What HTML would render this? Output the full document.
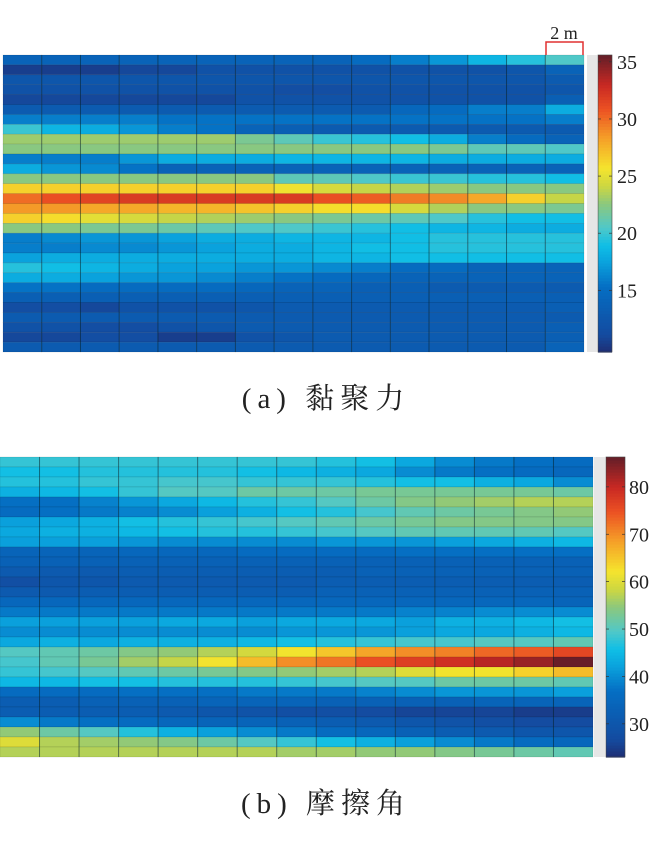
<!DOCTYPE html>
<html><head><meta charset="utf-8">
<style>
html,body{margin:0;padding:0;background:#fff;}
body{width:653px;height:842px;overflow:hidden;position:relative;}
svg{position:absolute;left:0;top:0;}
.cap{font-family:"Liberation Serif","Noto Serif CJK SC",serif;font-size:29px;fill:#222;letter-spacing:6px;}
.tk{font-family:"Liberation Serif",serif;font-size:20px;fill:#222;}
</style></head>
<body>
<svg id="fig" width="653" height="842">
  <g id="chartA"></g>
  <g id="chartB"></g>
  <g>
    <path d="M546,55 V42 H583 V55" fill="none" stroke="#e03030" stroke-width="1.5"/>
    <text x="564" y="39" text-anchor="middle" class="tk" style="font-size:18px">2 m</text>
  </g>
  <text x="326" y="408" text-anchor="middle" class="cap">(a) 黏聚力</text>
  <text x="326" y="813" text-anchor="middle" class="cap">(b) 摩擦角</text>
</svg>
<script>
const cohesionRows = [
[14,14,14,14,14,14,14,14,14,15,16,17,18.5,19.5,20.5],
[10.5,10.5,10.5,11,11,12,12,12,12,12,12,12,12,12.5,14],
[12.5,12.5,12.5,12.5,12.5,12.5,12.5,12.5,12.5,12.5,12.5,12.5,12.5,12.5,13],
[12,12,12,12,12,12,12,11.5,11.5,12,12,12,12,12,12.5],
[11,11,11,11,11,11,12,12,12,12,12,12,12,12,13.5],
[13,13,13,13,13,13,13,13,13,13,14.5,15,16,16,18],
[16,16,16,16,15.5,15.5,15.5,15.5,15.5,15.5,15.5,15.5,15.5,15.5,16],
[20,18.5,18,17,16,15.5,14,13.5,13,13,13,13,13,13,13],
[23,23,23,23,23,23,22,21,20,19.5,19,18,16,15,14],
[22.5,22.5,22.5,22.5,22.5,22.5,22.5,22.5,22.5,22.5,22.5,22,21,21,20.5],
[16,16,16,17,18,18,18,18.5,18.5,18.5,18.5,18,18,18,18],
[18,17,16.5,15.5,14,14,14,14,14,14,14,14,14,14,14],
[22.5,22.5,22.5,22.5,22.5,22.5,22.5,21,21,20.5,20,20,19.5,19.5,19],
[26.5,26.5,26.5,26.5,26.5,26.5,26.5,25.5,24.5,24,23.5,23,22.5,22.5,22.5],
[30,31,31.5,32,32,32,32,32,31,30.5,29.5,29,28,26.5,24],
[28.5,28.5,28,28,27.5,27.5,27,26.5,26,26,24.5,23.5,22.5,22.5,22],
[26.5,26,25,24.5,24,23.5,23,22.5,22,21.5,21,20.5,19.5,19,19],
[22.5,22.5,22,22,21.5,21,20.5,20.5,20,19.5,19,18.5,18.5,18,18],
[16,16.5,17,17,17.5,18,18,18.5,18.5,18.5,19,19.5,19.5,19.5,19.5],
[16,16,16.5,16.5,17,17.5,18,18,18.5,19,19,19.5,19.5,19.5,19.5],
[17.5,18,18,18,18,18,18,18,18.5,18.5,19,19,19,19,19],
[19.5,19,18.5,18,17.5,17.5,17,17,16.5,16,15,15,14,14,14],
[18,18,17.5,17,17,16.5,16,15.5,15,14.5,14,14,14,14,14],
[15.5,15.5,15,15,15,15,14.5,14,14,13.5,13.5,13,13,13,13],
[13.5,13.5,13.5,13.5,13.5,13.5,13.5,13.5,13.5,13.5,13.5,13.5,13.5,13.5,13.5],
[11.5,11.5,11,12,12,12,12.5,13,13,13,13,13,13,13,13.5],
[13,13,13,13,13,13,13,13,13,13,13,13,13,13,13],
[12,12,11.5,11.5,12,12.5,13,13,13,13,13,13,13,13,13.5],
[11,11,11.5,11.5,10.5,10.5,12,12.5,13,13,13,13,13,13,13.5],
[13,13,13,13,13,13,13,13,13,13,13,13,13,13,14]
];
const frictionRows = [
[48,48,48,48,48,48,48,48,47,46,43,40,38,37,36],
[46,46,47,47,47,47,46,45,44,43,40,38,37,36,35],
[47,47,48,48,49,49,48,48,48,47,46,46,44,43,40],
[44,45,46,48,50,50,52,52,52,53,53,53,53,53,52],
[37,37,39,41,43,45,47,48,50,52,54,55,56,57,57],
[36,37,38,39,40,42,44,46,47,49,51,52,53,54,55],
[42,43,44,46,47,48,49,50,51,52,53,54,54,54,54],
[43,44,44,45,46,47,47,48,49,50,51,51,51,51,50],
[42,42,42,41,40,40,40,40,41,41,41,42,43,44,45],
[34,34,34,35,35,35,36,36,36,36,37,37,37,37,37],
[33,33,33,33,33,33,33,33,33,33,33,33,33,33,33],
[31,31,31,32,32,32,32,32,32,33,33,33,33,33,33],
[28,30,30,31,31,31,31,31,32,32,32,32,32,32,32],
[31,31,32,32,32,32,32,32,33,33,33,33,33,33,33],
[35,35,35,35,35,35,35,35,35,35,35,35,35,35,34],
[38,38,38,38,38,38,38,38,38,38,39,39,40,40,40],
[42,42,42,42,43,43,42,43,43,43,42,44,44,45,46],
[40,40,40,40,40,40,40,41,41,41,42,43,43,44,45],
[43,44,43,44,44,44,45,46,47,48,49,49,50,50,51],
[50,51,52,54,55,57,59,62,65,68,70,71,73,74,76],
[49,51,53,56,58,62,66,70,72,75,77,79,81,83,86],
[48,49,50,51,52,53,54,55,56,57,60,62,62,64,66],
[45,45,46,46,47,47,47,48,49,50,50,52,52,52,51],
[36,36,36,37,37,37,38,38,38,39,40,41,41,41,42],
[32,32,33,33,33,34,34,34,33,33,33,33,34,34,34],
[32,32,32,32,31,30,29,28,28,27,26,26,26,25,25],
[40,38,37,36,35,34,34,33,32,31,30,29,28,27,27],
[55,52,50,47,44,42,40,38,36,35,33,32,31,30,30],
[60,57,56,55,54,52,50,48,46,44,42,40,38,36,35],
[57,57,57,57,57,57,57,56,56,55,55,54,53,52,51]
];
const cohesionTicks = [15,20,25,30,35];
const frictionTicks = [30,40,50,60,70,80];

const stops=[[0,[30,45,115]],[0.06,[20,75,160]],[0.15,[10,95,180]],[0.22,[5,110,195]],[0.3,[10,160,220]],[0.36,[15,190,230]],[0.42,[80,200,200]],[0.5,[140,200,125]],[0.56,[205,215,65]],[0.62,[245,228,45]],[0.72,[245,160,40]],[0.82,[235,80,35]],[0.9,[200,40,35]],[1,[100,30,40]]];
function cmap(t){t=Math.max(0,Math.min(1,t));for(let i=1;i<stops.length;i++){if(t<=stops[i][0]){const a=stops[i-1],b=stops[i];const f=(t-a[0])/(b[0]-a[0]);return 'rgb('+a[1].map((v,k)=>Math.round(v+(b[1][k]-v)*f)).join(',')+')';}}return 'rgb(100,30,40)';}
const NS='http://www.w3.org/2000/svg';
function mk(tag,at,parent){const e=document.createElementNS(NS,tag);for(const k in at)e.setAttribute(k,at[k]);parent.appendChild(e);return e;}

function draw(g,rows,ticks,vmin,vmax,box,strip,bar,labelX,nm){
  const nr=rows.length,nc=rows[0].length;
  const cw=(box.x1-box.x0)/nc,ch=(box.y1-box.y0)/nr;
  const xs=c=>box.x0+c*cw, ys=r=>box.y0+r*ch;
  const norm=v=>(v-vmin)/(vmax-vmin);
  for(let r=0;r<nr;r++)for(let c=0;c<nc;c++){
    const rc=mk('rect',{x:xs(c),y:ys(r),width:cw,height:ch,fill:cmap(norm(rows[r][c])),stroke:'rgba(0,0,0,0.15)','stroke-width':0.6},g);
    
    
  }
  for(let c=1;c<nc;c++){
    const ln=mk('line',{x1:xs(c),x2:xs(c),y1:box.y0,y2:box.y1,stroke:'rgba(0,30,40,0.45)','stroke-width':1},g);
    
    
  }
  const st=mk('rect',{x:strip.x,y:box.y0,width:strip.w,height:box.y1-box.y0,fill:'#e6e6e6'},g);
  
  
  const cb=mk('g',{},g);
  
  
  const H=box.y1-box.y0, n=100;
  for(let i=0;i<n;i++){
    mk('rect',{x:bar.x,y:box.y1-(i+1)*H/n,width:bar.w,height:H/n+0.6,fill:cmap((i+0.5)/n)},cb);
  }
  mk('rect',{x:bar.x,y:box.y0,width:bar.w,height:H,fill:'none',stroke:'#444','stroke-width':0.6},cb);
  const yv=v=>box.y1-norm(v)*H;
  ticks.forEach(t=>{
    mk('line',{x1:bar.x,x2:bar.x+3,y1:yv(t),y2:yv(t),stroke:'#333','stroke-width':0.7},cb);
    mk('line',{x1:bar.x+bar.w-3,x2:bar.x+bar.w,y1:yv(t),y2:yv(t),stroke:'#333','stroke-width':0.7},cb);
    const tx=mk('text',{x:labelX,y:yv(t)+7,class:'tk'},cb);
    tx.textContent=t;
    
    
  });
}
draw(document.getElementById('chartA'),cohesionRows,cohesionTicks,9.6,35.6,{x0:3,x1:584,y0:55,y1:352},{x:587,w:10},{x:598,w:14},617,'cohesion');
draw(document.getElementById('chartB'),frictionRows,frictionTicks,23,86.3,{x0:0,x1:593,y0:457,y1:757},{x:594,w:11},{x:606,w:19},629,'friction');
</script>
</body></html>
